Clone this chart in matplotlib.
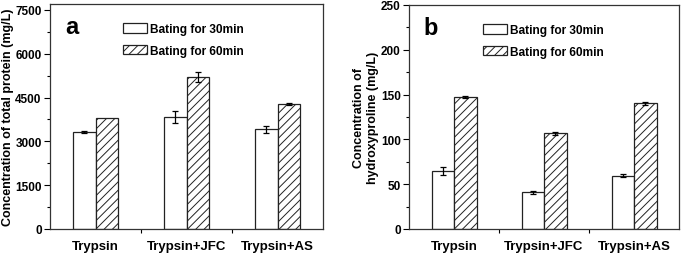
import matplotlib
matplotlib.use("Agg")
import matplotlib.pyplot as plt
import numpy as np
from matplotlib.ticker import MultipleLocator, FixedLocator

plt.rcParams['font.family'] = ['Liberation Sans', 'DejaVu Sans']
plt.rcParams['font.weight'] = 'bold'
plt.rcParams['hatch.linewidth'] = 0.7
plt.rcParams['hatch.color'] = '#666666'

categories = ["Trypsin", "Trypsin+JFC", "Trypsin+AS"]
series_names = ["Bating for 30min", "Bating for 60min"]

protein_30 = [3320, 3830, 3410]
protein_30_err = [50, 200, 120]
protein_60 = [3790, 5210, 4285]
protein_60_err = [0, 165, 35]

hyp_30 = [65, 41, 59.5]
hyp_30_err = [4.5, 1.8, 1.6]
hyp_60 = [147.3, 106.8, 140.2]
hyp_60_err = [0.6, 1.5, 1.3]

a_yticks = [0, 1500, 3000, 4500, 6000, 7500]
b_yticks = [0, 50, 100, 150, 200, 250]

fig = plt.figure(figsize=(6.85, 2.55), dpi=100)
W, H = 685, 255

def make_axes(l, r, t, b):
    return fig.add_axes([l / W, 1 - b / H, (r - l) / W, (b - t) / H])

axA = make_axes(50, 323, 5, 230)
axB = make_axes(409, 679, 6, 230)

def draw(ax, v30, e30, v60, e60, yticks, ylim, ylabel, letter, minor, legx, labx):
    x = np.arange(1, len(categories) + 1)
    w = 0.25
    ax.bar(x - w / 2, v30, w, color='white', edgecolor='#222222', linewidth=0.9,
           label=series_names[0], zorder=2)
    ax.bar(x + w / 2, v60, w, color='white', edgecolor='#222222', linewidth=0.9,
           hatch='////', label=series_names[1], zorder=2)
    ax.errorbar(x - w / 2, v30, yerr=e30, fmt='none', ecolor='black',
                elinewidth=0.9, capsize=2, capthick=0.9, zorder=3)
    e60 = np.asarray(e60, dtype=float)
    m = e60 > 0
    ax.errorbar((x + w / 2)[m], np.asarray(v60)[m], yerr=e60[m], fmt='none',
                ecolor='black', elinewidth=0.9, capsize=2, capthick=0.9, zorder=3)
    ax.set_xlim(0.5, 3.5)
    ax.set_ylim(*ylim)
    ax.set_xticks(x)
    ax.set_xticklabels(categories, fontsize=9.5, fontweight='bold')
    ax.xaxis.set_minor_locator(FixedLocator([1.5, 2.5]))
    ax.tick_params(axis='x', which='major', length=0, pad=8)
    ax.tick_params(axis='x', which='minor', length=3, width=0.8, direction='out')
    ax.set_yticks(yticks)
    ax.set_yticklabels([str(t) for t in yticks], fontsize=8.5, fontweight='bold')
    ax.yaxis.set_minor_locator(MultipleLocator(minor))
    ax.tick_params(axis='y', which='major', length=4, width=0.8, direction='out', pad=2)
    ax.tick_params(axis='y', which='minor', length=2, width=0.8, direction='out')
    for s in ax.spines.values():
        s.set_linewidth(0.9)
        s.set_color('#333333')
    ax.set_ylabel(ylabel, fontsize=9, fontweight='bold')
    ax.yaxis.set_label_coords(labx, 0.5)
    ax.text(0.055, 0.9, letter, transform=ax.transAxes, fontsize=17,
            fontweight='bold', va='center', ha='left')
    ax.legend(loc='upper left', bbox_to_anchor=(legx, 0.915),
              frameon=False, handlelength=2.0, handleheight=0.85,
              handletextpad=0.3, labelspacing=0.8, borderpad=0, borderaxespad=0,
              prop={'weight': 'bold', 'size': 8.6})

draw(axA, protein_30, protein_30_err, protein_60, protein_60_err, a_yticks,
     (0, 7700), "Concentration of total protein (mg/L)", 'a', 750, 0.267, -0.132)
draw(axB, hyp_30, hyp_30_err, hyp_60, hyp_60_err, b_yticks,
     (0, 250), "Concentration of\nhydroxyproline (mg/L)", 'b', 25, 0.274, -0.112)

fig.savefig("out.png", dpi=100)
